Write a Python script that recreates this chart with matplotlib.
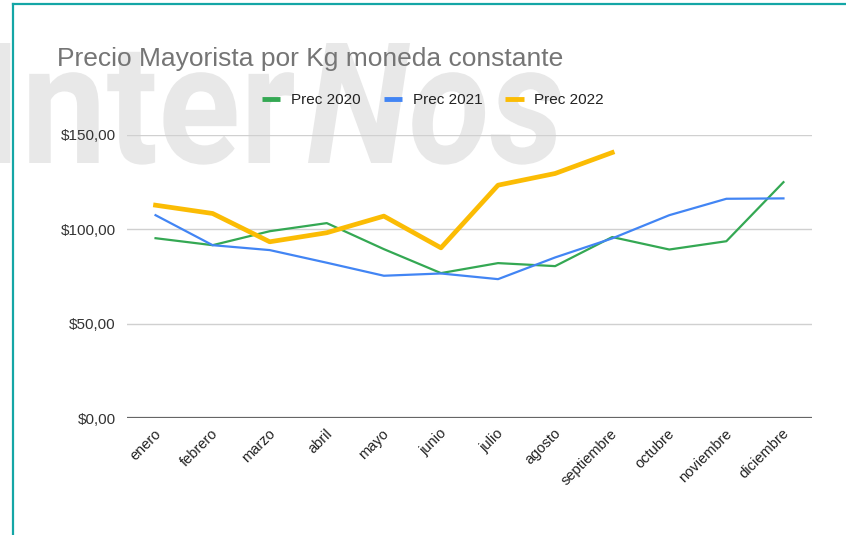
import matplotlib
matplotlib.use("Agg")
import matplotlib.pyplot as plt
import matplotlib.transforms as mtransforms
from matplotlib.lines import Line2D
from matplotlib.textpath import TextPath
from matplotlib.patches import PathPatch
from matplotlib.font_manager import FontProperties

months = ["enero", "febrero", "marzo", "abril", "mayo", "junio", "julio",
          "agosto", "septiembre", "octubre", "noviembre", "diciembre"]

prec_2020 = [95.3, 91.6, 99.0, 103.3, 89.5, 76.8, 82.1, 80.5, 95.9, 89.3, 93.7, 125.0]
prec_2021 = [107.5, 91.6, 89.0, 82.3, 75.4, 76.6, 73.6, 85.1, 95.2, 107.5, 116.2, 116.4]
prec_2022 = [112.8, 108.4, 93.4, 98.2, 107.0, 90.2, 123.4, 129.6, 140.7]

y_ticks = [0, 50, 100, 150]
y_labels = ["$0,00", "$50,00", "$100,00", "$150,00"]

FONT = "Liberation Sans"
W, H = 846, 535

fig = plt.figure(figsize=(W / 100, H / 100), dpi=100)
fig.patch.set_facecolor("white")


def watermark(text, style, box):
    # fit the glyph outline into a pixel box (x0, x1, top, bottom from top-left)
    fp = FontProperties(family="Roboto", weight="bold", style=style)
    tp = TextPath((0, 0), text, size=100, prop=fp)
    ext = tp.get_extents()
    x0, x1, top, bot = box
    sx = (x1 - x0) / (ext.x1 - ext.x0)
    sy = (bot - top) / ext.y1
    tr = (mtransforms.Affine2D().translate(-ext.x0, 0).scale(sx, sy)
          .translate(x0, H - bot))
    patch = PathPatch(tr.transform_path(tp), facecolor="#e8e8e8", edgecolor="none",
                      transform=mtransforms.IdentityTransform(), zorder=-10)
    fig.add_artist(patch)


watermark("Inter", "normal", (-12, 294, 43, 163))
watermark("Nos", "italic", (308, 561, 43, 163))

# teal border
fig.add_artist(Line2D([12.5 / W, 12.5 / W], [0, 1 - 3.5 / H], color="#14a6a6", lw=1.6,
                      transform=fig.transFigure))
fig.add_artist(Line2D([12.5 / W, 1], [1 - 3.5 / H, 1 - 3.5 / H], color="#14a6a6", lw=1.6,
                      transform=fig.transFigure))

ax = fig.add_axes([127 / W, 1 - 418 / H, (812 - 127) / W, (418 - 135) / H])
ax.set_facecolor("none")

x = list(range(len(months)))
l20, = ax.plot(x, prec_2020, color="#34a853", lw=1.6, label="Prec 2020", zorder=3)
l21, = ax.plot(x, prec_2021, color="#4285f4", lw=1.6, label="Prec 2021", zorder=3)
l22, = ax.plot(x[:len(prec_2022)], prec_2022, color="#fbbc04", lw=3.4,
               label="Prec 2022", zorder=4)

ax.set_xlim(-0.5, 11.5)
ax.set_ylim(0, 150)
ax.set_yticks(y_ticks)
ax.set_yticklabels(y_labels)
ax.set_xticks(x)
ax.set_xticklabels(months, rotation=45, ha="right", va="top")

ax.tick_params(axis="both", length=0)
ax.tick_params(axis="y", pad=8)
ax.tick_params(axis="x", pad=6)
for s in ax.spines.values():
    s.set_visible(False)
ax.grid(axis="y", color="#d0d0d0", lw=1.0, zorder=1)
ax.axhline(0, color="#666666", lw=1.6, zorder=2)

offset = mtransforms.ScaledTranslation(8 / 100, 0, fig.dpi_scale_trans)
for lab in ax.get_xticklabels():
    lab.set_transform(lab.get_transform() + offset)
    lab.set_fontfamily(FONT)
    lab.set_fontsize(10.5)
    lab.set_color("#222222")
for lab in ax.get_yticklabels():
    lab.set_fontfamily(FONT)
    lab.set_fontsize(11)
    lab.set_color("#333333")

fig.text(57 / W, 1 - 66 / H, "Precio Mayorista por Kg moneda constante",
         fontsize=19, color="#757575", family=FONT, va="baseline", ha="left")

leg = fig.legend(handles=[l20, l21, l22], loc="center", ncol=3,
                 bbox_to_anchor=(433 / W, 1 - 100 / H), frameon=False,
                 prop={"family": FONT, "size": 11}, handlelength=1.2,
                 handletextpad=0.7, columnspacing=1.5)
for h in leg.legend_handles:
    h.set_linewidth(3.5)
    h.set_solid_capstyle("butt")
for t in leg.get_texts():
    t.set_color("#222222")

fig.savefig("out.png", dpi=100)
